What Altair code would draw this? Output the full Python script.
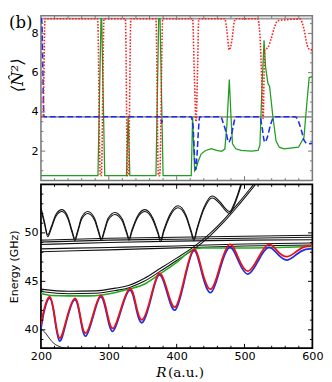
import altair as alt
import pandas as pd

# ---------------- top panel: <N^2> of the three states ----------------
red_top_R = [200, 203, 206, 283.5, 287.5, 289, 293, 324.5, 327.5, 329, 332.5, 369.5, 373, 375, 379.5,
             423.5, 426, 428.5, 431, 432.5, 471, 473.8, 477.6, 481.4, 484.7, 487, 519.3, 522.7, 525.5,
             527.4, 529.8, 534.5, 539.2, 544, 548.8, 582, 587.6, 592.4, 597, 600]
red_top_N = [3.75, 3.75, 8.75, 8.75, 0.75, 0.75, 8.75, 8.75, 0.75, 0.75, 8.75, 8.75, 0.75, 0.75, 8.75,
             8.75, 6.0, 3.5, 6.5, 8.75, 8.75, 8.2, 7.16, 7.65, 8.55, 8.75, 8.75, 7.94, 5.5,
             3.67, 7.16, 7.28, 7.73, 8.3, 8.65, 8.73, 8.22, 7.4, 7.16, 7.16]

green_top_R = [200, 284, 288.5, 289.5, 294, 326, 328.5, 331, 369.5, 373.5, 375.5, 380, 421.5, 423.5,
               426.5, 428.5, 432, 436, 442, 451, 459, 466, 471, 474, 477.6, 480, 482.3, 487, 495, 510,
               520, 522.7, 526, 528.8, 531, 534.5, 537, 541.6, 546.4, 551.2, 558, 579.6, 587.6, 591.5,
               595.3, 600]
green_top_N = [0.75, 0.75, 8.75, 8.75, 0.75, 0.75, 3.8, 0.75, 0.75, 8.75, 8.75, 0.75, 0.75, 3.75,
               1.0, 1.1, 1.5, 1.85, 2.02, 2.12, 2.04, 1.99, 2.1, 3.3, 5.65, 3.8, 2.37, 2.12, 2.04, 2.0,
               2.04, 2.3, 5.5, 7.65, 6.3, 5.45, 5.3, 3.83, 2.53, 2.2, 2.12, 2.2, 2.7, 4.3,
               5.75, 5.8]

blue_top_R = [200, 201, 204.5, 376, 378, 380, 421, 424, 426.5, 428, 430, 432, 434, 465, 468, 473, 476.6,
              480, 483.3, 487, 522.7, 526, 529.8, 533.6, 538.3, 544, 574.6, 579.6, 584.3, 588.1, 593.8, 600]
blue_top_N = [8.75, 8.75, 3.75, 3.75, 3.45, 3.75, 3.75, 3.3, 1.6, 1.05, 1.8, 3.0, 3.75, 3.75, 3.5, 2.94, 2.45,
              2.7, 3.26, 3.75, 3.75, 3.18, 2.45, 2.7, 3.34, 3.75, 3.75, 3.5, 3.0, 2.53, 2.37, 2.4]

ref_levels = [8.75, 3.75]

# ---------------- bottom panel: energies (GHz) ----------------
osc_lo_R = [200, 205, 213, 220, 227.5, 238, 250, 258, 266, 277, 288, 297, 306, 318, 331, 340, 349.5, 362,
            374, 386, 398, 411, 425, 437, 450.5, 464, 478, 491, 505, 520, 535, 549, 563, 577, 590, 600]
red_E = [40.5, 42.2, 43.4, 41.5, 39.15, 41.2, 43.25, 41.4, 39.65, 41.6, 43.55, 41.9, 40.15, 42.2, 44.25,
         42.6, 41.05, 43.4, 45.8, 44.1, 42.35, 45.2, 48.3, 46.2, 44.2, 46.6, 48.8, 47.4, 46.05, 47.4,
         48.8, 48.1, 47.55, 48.1, 48.6, 48.65]
blue_E = [40.1, 42.0, 43.25, 41.3, 38.85, 41.0, 43.1, 41.2, 39.35, 41.4, 43.4, 41.6, 39.85, 42.0, 44.1,
          42.3, 40.75, 43.2, 45.65, 43.8, 42.05, 44.95, 48.15, 45.9, 43.85, 46.3, 48.5, 47.1, 45.75, 47.1,
          48.5, 47.8, 47.2, 47.8, 48.3, 48.35]

green_R = [200, 215, 240, 270, 290, 310, 330, 352, 375, 399, 423, 437, 460, 500, 550, 600]
green_E = [43.75, 43.55, 43.5, 43.5, 43.6, 43.85, 44.2, 44.7, 45.75, 46.9, 48.25, 48.45, 48.45, 48.45,
           48.5, 48.6]

par_R = [200, 240, 280, 310, 330, 352, 375, 400, 425, 450, 470, 490, 510, 525]
par_E1 = [44.2, 43.97, 44.02, 44.3, 44.6, 45.3, 46.3, 47.4, 48.55, 50.0, 51.4, 53.0, 54.7, 56.0]
par_E2 = [43.95, 43.72, 43.77, 44.05, 44.35, 45.0, 46.0, 47.15, 48.3, 49.75, 51.15, 52.75, 54.45, 55.75]

osc_hi_R = [200, 205, 210, 215, 222, 231, 240, 246, 250, 254, 260, 269, 279, 285, 289, 293, 299, 309,
            320, 326, 330, 334, 342, 353, 365, 372, 376.5, 381, 390, 402, 414, 421, 425.5, 430, 440,
            452, 464, 472, 478, 484, 490, 496, 502]
osc_E1 = [52.6, 51.2, 49.8, 50.6, 51.9, 52.4, 51.6, 50.2, 49.4, 50.2, 51.6, 52.2, 51.5, 50.2, 49.4,
          50.2, 51.5, 52.1, 51.4, 50.2, 49.45, 50.3, 51.7, 52.4, 51.5, 50.2, 49.3, 50.3, 51.9, 52.8,
          51.8, 50.3, 49.4, 50.5, 52.6, 53.8, 53.2, 52.5, 52.2, 52.9, 54.0, 55.3, 56.6]
osc_E2 = [52.4, 51.0, 49.6, 50.4, 51.7, 52.2, 51.4, 50.0, 49.2, 50.0, 51.4, 52.0, 51.3, 50.0, 49.2,
          50.0, 51.3, 51.9, 51.2, 50.0, 49.25, 50.1, 51.5, 52.2, 51.3, 50.0, 49.1, 50.1, 51.7, 52.6,
          51.6, 50.1, 49.2, 50.3, 52.4, 53.6, 53.0, 52.3, 52.0, 52.7, 53.8, 55.1, 56.4]

flat_R = [200, 300, 400, 500, 600]
flat_E1 = [49.25, 49.45, 49.55, 49.65, 49.75]
flat_E2 = [49.05, 49.25, 49.35, 49.45, 49.55]
flat_E3 = [48.8, 49.0, 49.15, 49.25, 49.3]
flat_E4 = [48.35, 48.5, 48.65, 48.85, 48.95]
flat_E5 = [48.05, 48.25, 48.45, 48.65, 48.75]

small_R = [200, 205, 210, 216, 222, 230, 240]
small_E = [40.1, 39.8, 39.35, 38.8, 38.45, 38.2, 38.05]

# ---------------- axes: labels and tick positions ----------------
x_labels = [200, 300, 400, 500, 600]
x_minor = [220, 240, 260, 280, 320, 340, 360, 380, 420, 440, 460, 480, 520, 540, 560, 580]
x_major = [300, 400, 500]
top_y_labels = [2, 4, 6, 8]
top_y_minor = [1.0, 1.5, 2.5, 3.0, 3.5, 4.5, 5.0, 5.5, 6.5, 7.0, 7.5, 8.5]
top_y_major = [2, 4, 6, 8]
bot_y_labels = [40, 45, 50]
bot_y_minor = [39, 41, 42, 43, 44, 46, 47, 48, 49, 51, 52, 53, 54]
bot_y_major = [40, 45, 50]

W = 280
H_TOP = 170
H_BOT = 169
T_MIN = 2.5
T_MAJ = 4.5

xs = alt.Scale(domain=[200, 600], nice=False, zero=False)
yt = alt.Scale(domain=[0.5, 8.9], nice=False, zero=False)
yb = alt.Scale(domain=[38.1, 55.0], nice=False, zero=False)

LABEL = dict(labelFont="DejaVu Sans", labelFontSize=11.5, labelColor="black",
             ticks=False, domain=False, grid=False, labelFlush=False, labelOverlap=False)

top_y_axis = alt.Axis(values=top_y_labels, labelPadding=3, title="⟨N̂²⟩",
                      titleFont="DejaVu Serif", titleFontSize=17, titleFontStyle="italic",
                      titleFontWeight="normal", titleColor="black", titleAngle=270,
                      titleX=-15, titleY=61, titleAlign="center", titleBaseline="bottom", **LABEL)
bot_x_axis = alt.Axis(values=x_labels, labelPadding=3, title=None, format="d", **LABEL)
bot_y_axis = alt.Axis(values=bot_y_labels, labelPadding=3, title="Energy (GHz)",
                      titleFont="DejaVu Sans", titleFontSize=11.3, titleFontWeight="normal",
                      titleColor="black", titleAngle=270, titleX=-22, titleY=H_BOT / 2,
                      titleAlign="center", titleBaseline="bottom", **LABEL)


def line_layer(R, V, color, width, yscale, x_axis, y_axis, dash=None, interp="monotone"):
    df = pd.DataFrame({"R": R, "v": V})
    props = dict(color=color, strokeWidth=width, interpolate=interp, clip=True)
    if dash is not None:
        props["strokeDash"] = dash
    return alt.Chart(df).mark_line(**props).encode(
        x=alt.X("R:Q", scale=xs, axis=x_axis),
        y=alt.Y("v:Q", scale=yscale, axis=y_axis),
    )


def frame_ticks(yscale, y_minor, y_major, h, color, x_axis, y_axis):
    layers = []
    for vals, L in ((x_minor, T_MIN), (x_major, T_MAJ)):
        base = alt.Chart(pd.DataFrame({"R": vals})).mark_rule(color=color, strokeWidth=1)
        layers.append(base.encode(x=alt.X("R:Q", scale=xs, axis=x_axis),
                                  y=alt.value(h), y2=alt.value(h - L)))
        layers.append(base.encode(x=alt.X("R:Q", scale=xs, axis=x_axis),
                                  y=alt.value(0), y2=alt.value(L)))
    for vals, L in ((y_minor, T_MIN), (y_major, T_MAJ)):
        base = alt.Chart(pd.DataFrame({"v": vals})).mark_rule(color=color, strokeWidth=1)
        layers.append(base.encode(y=alt.Y("v:Q", scale=yscale, axis=y_axis),
                                  x=alt.value(0), x2=alt.value(L)))
        layers.append(base.encode(y=alt.Y("v:Q", scale=yscale, axis=y_axis),
                                  x=alt.value(W), x2=alt.value(W - L)))
    return layers


# ---------------- top panel ----------------
ref = alt.Chart(pd.DataFrame({"v": ref_levels})).mark_rule(color="#9a9a9a", strokeWidth=1.8).encode(
    y=alt.Y("v:Q", scale=yt, axis=top_y_axis))

g_top = line_layer(green_top_R, green_top_N, "#1f9e1f", 1.3, yt, None, top_y_axis, interp="linear")
b_top = line_layer(blue_top_R, blue_top_N, "#1c2cf0", 1.6, yt, None, top_y_axis, dash=[6, 3])
r_top = line_layer(red_top_R, red_top_N, "#ff1a1a", 1.6, yt, None, top_y_axis, dash=[1.6, 1.6])

label_b = alt.Chart(pd.DataFrame({"t": ["(b)"]})).mark_text(
    font="DejaVu Serif", fontSize=17, align="left", baseline="top", color="black"
).encode(text="t:N", x=alt.value(-33), y=alt.value(0))

top = alt.layer(ref, g_top, b_top, r_top,
                *frame_ticks(yt, top_y_minor, top_y_major, H_TOP, "#777777", None, top_y_axis),
                label_b).properties(
    width=W, height=H_TOP,
    view=alt.ViewBackground(stroke="#7a7a7a", strokeWidth=1.6))

# ---------------- bottom panel ----------------
BLK = "#111111"
bw = 1.1
XA, YA = bot_x_axis, bot_y_axis
bottom_layers = [
    line_layer(flat_R, flat_E1, BLK, bw, yb, XA, YA),
    line_layer(flat_R, flat_E2, BLK, bw, yb, XA, YA),
    line_layer(flat_R, flat_E3, BLK, bw, yb, XA, YA),
    line_layer(flat_R, flat_E4, BLK, bw, yb, XA, YA),
    line_layer(flat_R, flat_E5, BLK, bw, yb, XA, YA),
    line_layer(osc_hi_R, osc_E1, BLK, bw, yb, XA, YA),
    line_layer(osc_hi_R, osc_E2, BLK, bw, yb, XA, YA),
    line_layer(par_R, par_E1, BLK, bw, yb, XA, YA),
    line_layer(par_R, par_E2, BLK, bw, yb, XA, YA),
    line_layer(small_R, small_E, BLK, 0.9, yb, XA, YA),
    line_layer(green_R, green_E, "#22a822", 1.6, yb, XA, YA),
    line_layer(osc_lo_R, blue_E, "#1f2ee6", 1.8, yb, XA, YA, interp="natural"),
    line_layer(osc_lo_R, red_E, "#ee1111", 1.8, yb, XA, YA, interp="natural"),
]

xt_R = alt.Chart(pd.DataFrame({"t": ["R"]})).mark_text(
    font="DejaVu Serif", fontSize=14, fontStyle="italic", align="left",
    baseline="alphabetic", color="black"
).encode(text="t:N", x=alt.value(119), y=alt.value(H_BOT + 29.5))
xt_unit = alt.Chart(pd.DataFrame({"t": ["(a.u.)"]})).mark_text(
    font="DejaVu Serif", fontSize=14, align="left", baseline="alphabetic", color="black"
).encode(text="t:N", x=alt.value(131), y=alt.value(H_BOT + 29.5))

bottom = alt.layer(*bottom_layers,
                   *frame_ticks(yb, bot_y_minor, bot_y_major, H_BOT, "black", XA, YA),
                   xt_R, xt_unit).properties(
    width=W, height=H_BOT,
    view=alt.ViewBackground(stroke="black", strokeWidth=1.8))

chart = alt.vconcat(top, bottom, spacing=0, padding=0).configure(background="white")

chart.save("out.html", embed_options={"renderer": "svg", "actions": False})
